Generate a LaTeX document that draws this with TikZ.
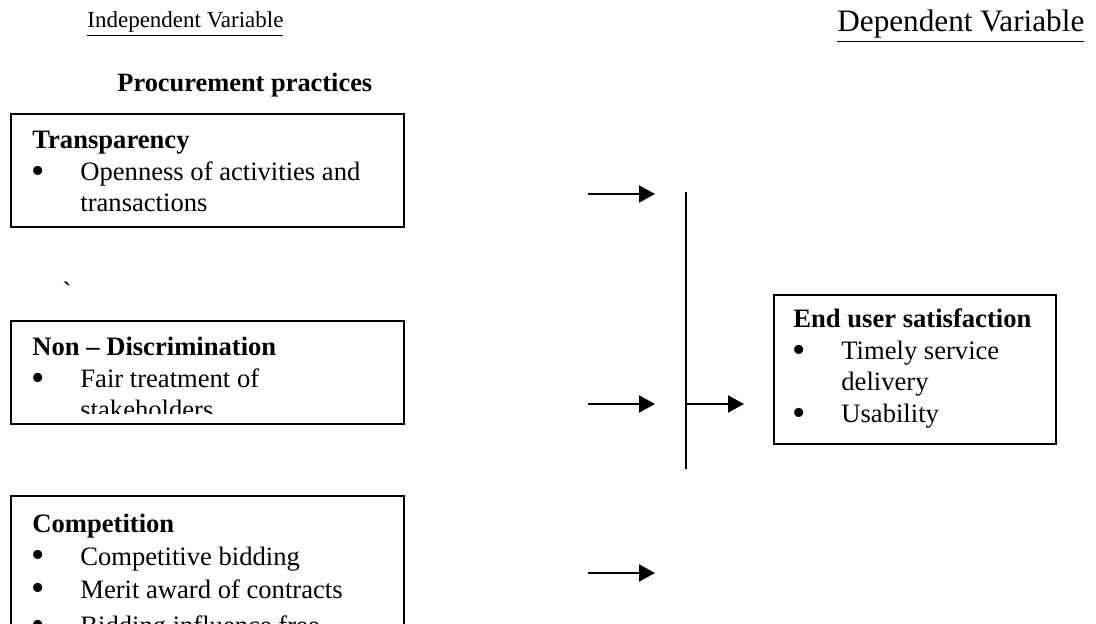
\documentclass[tikz,border=0pt]{standalone}
\usepackage{fontspec}
\setmainfont{Liberation Serif}
\newfontfamily\rawserif{Liberation Serif}
\usetikzlibrary{positioning,arrows.meta}
\newcommand{\bitem}{\makebox[24pt][l]{\hspace{-0.3pt}\raisebox{-1.3pt}{\fontsize{19}{19}\selectfont\textbullet}}}
\newcommand{\bcont}{\hspace*{24pt}}
\newcommand{\boxlines}[1]{\begin{tabular}[t]{@{}l@{}}#1\end{tabular}}

\begin{document}
\begin{tikzpicture}[
  x=0.5pt, y=-0.5pt,
  every node/.style={inner sep=0pt},
  heading/.style={anchor=base west},
  frame/.style={draw, line width=1pt, anchor=north west,
    minimum width=196.5pt},
  boxtext/.style={font=\fontsize{13.3}{15.75}\selectfont, anchor=base west},
  arr/.style={-{Triangle[length=8pt,width=8.5pt]}, line width=1pt},
]
\useasboundingbox (0,0) rectangle (1096,624);
\clip (0,0) rectangle (1096,624);

\node[heading, font=\fontsize{11.5}{14}\selectfont] (indep) at (87,28)
  {\underline{Independent Variable}};
\node[heading, font=\fontsize{15.6}{18}\selectfont] (dep) at (837,32)
  {\underline{Dependent Variable}};
\node[heading, font=\fontsize{13.2}{15}\selectfont\bfseries]
  (procure) at (117,92) {Procurement practices};

% independent variables
\node[frame, minimum height=56.5pt] (transp) at (10,113) {};
\node[boxtext] (transptxt) at ([shift={(11pt,-18pt)}]transp.north west)
  {\boxlines{\textbf{Transparency}\\
   \bitem Openness of activities and\\
   \bcont transactions}};

\node[heading, font=\fontsize{14}{16}\rawserif] (tick) at (62,302) {`};

\node[frame, minimum height=51.5pt] (nondisc) at (10,320) {};
\begin{scope}
\clip (10,320) rectangle (403,414);
\node[boxtext] (nondisctxt) at ([shift={(11pt,-18pt)}]nondisc.north west)
  {\boxlines{\textbf{Non -- Discrimination}\\
   \bitem Fair treatment of\\
   \bcont stakeholders}};
\end{scope}

\node[frame, minimum height=80pt] (compet) at (10,495) {};
\node[boxtext] (compettxt) at ([shift={(11pt,-18.5pt)}]compet.north west)
  {\boxlines{\textbf{Competition}\\[0.75pt]
   \bitem Competitive bidding\\[0.75pt]
   \bitem Merit award of contracts\\[2.5pt]
   \bitem Bidding influence free}};

% dependent variable
\node[frame, minimum width=141pt, minimum height=74.5pt] (enduser) at (773,294) {};
\node[boxtext] (endusertxt) at ([shift={(10pt,-17pt)}]enduser.north west)
  {\boxlines{\textbf{End user satisfaction}\\
   \bitem Timely service\\
   \bcont delivery\\
   \bitem Usability}};

% connectors
\coordinate (in1a) at (588,194);
\coordinate (in1b) at (655,194);
\coordinate (in2a) at (588,404);
\coordinate (in2b) at (655,404);
\coordinate (in3a) at (588,573);
\coordinate (in3b) at (655,573);
\coordinate (bartop) at (686,192);
\coordinate (barbot) at (686,469);
\coordinate (barmid) at (686,404);
\coordinate (outend) at (744,404);

\draw[arr] (in1a) -- (in1b);
\draw[arr] (in2a) -- (in2b);
\draw[arr] (in3a) -- (in3b);
\draw[line width=0.8pt] (bartop) -- (barbot);
\draw[arr] (barmid) -- (outend);
\end{tikzpicture}
\end{document}
